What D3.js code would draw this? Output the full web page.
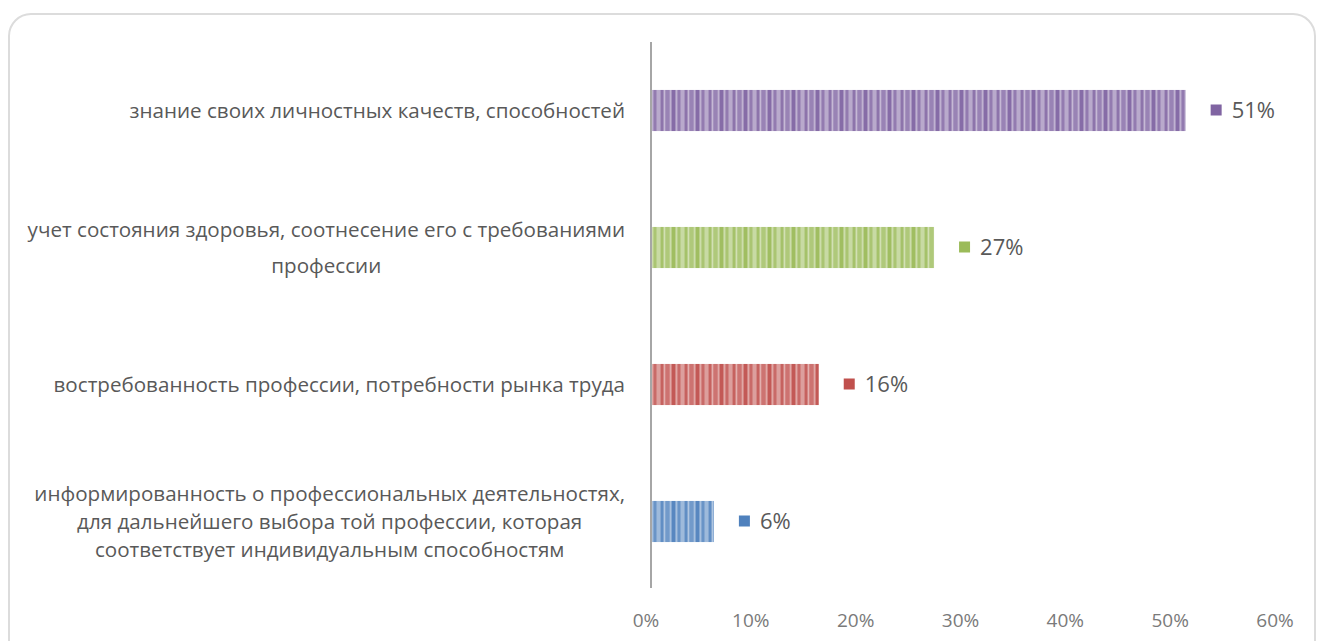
<!DOCTYPE html>
<html lang="ru">
<head>
    <meta charset="utf-8">
    <title>Факторы выбора профессии</title>
    <script src="https://d3js.org/d3.v7.min.js"></script>
    <style>
        body { margin: 0; background: #fff; }
        text { font-family: "Open Sans", sans-serif; fill: #595959; }
    </style>
</head>
<body>
    <script>
        // data, top to bottom
        const categories = [
            ['знание своих личностных качеств, способностей'],
            ['учет состояния здоровья, соотнесение его с требованиями', 'профессии'],
            ['востребованность профессии, потребности рынка труда'],
            ['информированность о профессиональных деятельностях,', 'для дальнейшего выбора той профессии, которая', 'соответствует индивидуальным способностям']
        ]
        const values = [51, 27, 16, 6]
        const colors = ['#8064a2', '#9bbb59', '#c0504d', '#4f81bd']
        const ticks = [0, 10, 20, 30, 40, 50, 60]

        const m = { width: 1320, height: 641 }

        const svg = d3.select('body').append('svg')
            .attr('width', m.width)
            .attr('height', m.height)

        // rounded frame
        svg.append('rect')
            .attr('x', 9).attr('y', 14)
            .attr('width', 1306).attr('height', 650)
            .attr('rx', 22)
            .attr('fill', 'none')
            .attr('stroke', '#dcdcdc')
            .attr('stroke-width', 2)

        const x = d3.scaleLinear().domain([0, 60]).range([651, 1280])
        const y = d3.scaleBand().domain(d3.range(values.length)).range([42, 590]).paddingInner(0.7).paddingOuter(0.35)

        // striped fills
        const defs = svg.append('defs')
        colors.forEach(function (c, i) {
            const p = defs.append('pattern')
                .attr('id', 'stripe' + i)
                .attr('patternUnits', 'userSpaceOnUse')
                .attr('width', 24).attr('height', 60)
            const light = d3.interpolateRgb(c, '#ffffff')
            p.append('rect').attr('width', 24).attr('height', 60).attr('fill', light(0.3))
            const stripes = [[0, 3, 0.05], [4, 1, 0.5], [6, 2, 0.15], [9, 3, 0.45], [13, 2, 0.1], [16, 1, 0.55], [18, 3, 0.2], [22, 1, 0.5]]
            stripes.forEach(function (s) {
                p.append('rect').attr('x', s[0]).attr('width', s[1]).attr('height', 60).attr('fill', light(s[2]))
            })
        })

        const g = svg.append('g')

        g.selectAll('.bar')
            .data(values)
            .enter()
            .append('rect')
            .attr('class', 'bar')
            .attr('x', x(0))
            .attr('y', function (d, i) { return y(i) })
            .attr('width', function (d) { return x(d) - x(0) })
            .attr('height', y.bandwidth())
            .attr('fill', function (d, i) { return 'url(#stripe' + i + ')' })

        // value labels with legend key
        g.selectAll('.key')
            .data(values)
            .enter()
            .append('rect')
            .attr('x', function (d) { return x(d) + 25 })
            .attr('y', function (d, i) { return y(i) + y.bandwidth() / 2 - 6 })
            .attr('width', 11).attr('height', 11)
            .attr('fill', function (d, i) { return colors[i] })

        g.selectAll('.val')
            .data(values)
            .enter()
            .append('text')
            .attr('x', function (d) { return x(d) + 46 })
            .attr('y', function (d, i) { return y(i) + y.bandwidth() / 2 })
            .attr('dy', '0.36em')
            .style('font-size', '22px')
            .text(function (d) { return d + '%' })

        // vertical axis line
        g.append('line')
            .attr('x1', x(0)).attr('x2', x(0))
            .attr('y1', 42).attr('y2', 588)
            .attr('stroke', '#a6a6a6')
            .attr('stroke-width', 2)

        // x tick labels
        g.selectAll('.tick')
            .data(ticks)
            .enter()
            .append('text')
            .attr('x', function (d) { return x(d) - 5 })
            .attr('y', 620)
            .attr('dy', '0.35em')
            .attr('text-anchor', 'middle')
            .style('font-size', '19px')
            .style('fill', '#7a7a7a')
            .text(function (d) { return d + '%' })

        // category labels: block right aligned, lines centred in block
        const lineH = [0, 36, 28]
        categories.forEach(function (lines, i) {
            const cy = y(i) + y.bandwidth() / 2
            const lh = lineH[lines.length - 1]
            const lab = g.append('g')
            const texts = lines.map(function (l, k) {
                return lab.append('text')
                    .attr('y', cy + (k - (lines.length - 1) / 2) * lh)
                    .attr('dy', '0.35em')
                    .attr('text-anchor', 'middle')
                    .style('font-size', '20.6px')
                    .text(l)
            })
            const w = d3.max(texts, function (t) { return t.node().getComputedTextLength() })
            texts.forEach(function (t) { t.attr('x', 625 - w / 2) })
        })
    </script>
</body>
</html>
